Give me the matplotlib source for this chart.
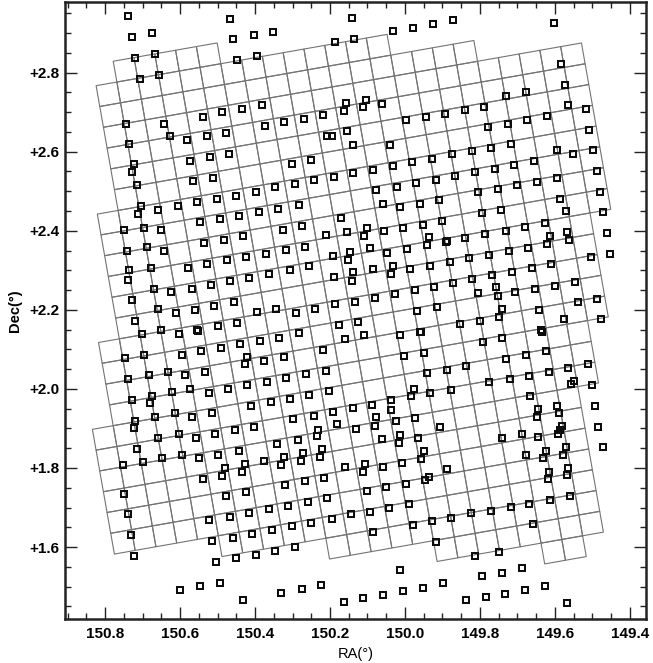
import numpy as np
import matplotlib
matplotlib.use("Agg")
import matplotlib.pyplot as plt
from matplotlib.collections import PolyCollection
from matplotlib.ticker import MultipleLocator, FormatStrFormatter

plt.rcParams['font.family'] = ['Liberation Sans', 'DejaVu Sans']

# ---- ACS tile mosaic: one row of the rotated tile grid per entry ----
tile_rows = list(range(-1, 26))
tile_first = [1, 0, 0, 0, 0, 0, 0, -1, -1, -1, -1, -1, -1, -2, -2, -2, -2,
              -3, -3, -3, -3, -3, -3, 2, 7, 12, 17]
tile_end = [6, 14, 18, 23, 23, 23, 23, 23, 23, 23, 23, 22, 22, 22, 22, 22,
            21, 21, 21, 20, 20, 20, 20, 20, 20, 20, 19]

TILE_RA = 0.0563      # tile side, degrees along the RA axis
TILE_DEC = 0.0534     # tile side, degrees along the Dec axis
THETA = np.radians(10.0)
GRID_ORIGIN = (150.824, 2.767)   # top-left corner of tile (row 0, col 0)

# ---- small pointings (RA, Dec) ----
pointings_nw = [
    (150.738, 2.943), (150.467, 2.936),
    (150.727, 2.890), (150.674, 2.900), (150.458, 2.884), (150.404, 2.895), (150.353, 2.903),
    (150.720, 2.837), (150.667, 2.848), (150.447, 2.831), (150.396, 2.841),
    (150.708, 2.785), (150.656, 2.795),
    (150.436, 2.709), (150.382, 2.718),
    (150.744, 2.671), (150.644, 2.671), (150.540, 2.689), (150.489, 2.700), (150.373, 2.666),
    (150.322, 2.674), (150.269, 2.684), (150.218, 2.694),
    (150.735, 2.620), (150.628, 2.639), (150.582, 2.629), (150.529, 2.639), (150.477, 2.647),
    (150.207, 2.640),
    (150.573, 2.576), (150.520, 2.586), (150.470, 2.595), (150.302, 2.570), (150.251, 2.580),
    (150.724, 2.569), (150.729, 2.548), (150.716, 2.515),
    (150.566, 2.525), (150.513, 2.533),
    (150.451, 2.489), (150.397, 2.499), (150.346, 2.510), (150.294, 2.518), (150.242, 2.528),
    (150.705, 2.463), (150.660, 2.453), (150.606, 2.462), (150.556, 2.472), (150.502, 2.481),
    (150.283, 2.466),
    (150.712, 2.443), (150.547, 2.421), (150.493, 2.429), (150.442, 2.438), (150.389, 2.447),
    (150.338, 2.456),
    (150.696, 2.408), (150.651, 2.401), (150.749, 2.401),
    (150.536, 2.368), (150.483, 2.377), (150.431, 2.386), (150.326, 2.402), (150.275, 2.413),
    (150.211, 2.390),
    (150.742, 2.350), (150.687, 2.359), (150.643, 2.348), (150.476, 2.325), (150.424, 2.333),
    (150.371, 2.342), (150.317, 2.352), (150.266, 2.360),
    (150.735, 2.300), (150.677, 2.306), (150.580, 2.305), (150.527, 2.316), (150.362, 2.290),
    (150.308, 2.300), (150.255, 2.310),
    (150.738, 2.276), (150.669, 2.254), (150.623, 2.244), (150.568, 2.252), (150.518, 2.262),
    (150.467, 2.272), (150.417, 2.280),
    (150.728, 2.225), (150.659, 2.201), (150.612, 2.191), (150.560, 2.200), (150.509, 2.210),
    (150.456, 2.220), (150.394, 2.194), (150.344, 2.203), (150.292, 2.193), (150.239, 2.203),
    (150.720, 2.173), (150.652, 2.149), (150.554, 2.149), (150.500, 2.159), (150.447, 2.168),
]

pointings_ne = [
    (150.142, 2.939), (150.031, 2.905), (149.978, 2.913), (149.924, 2.923), (149.873, 2.933),
    (149.602, 2.926), (150.187, 2.877), (150.135, 2.886),
    (149.584, 2.823), (149.573, 2.770), (149.731, 2.742), (149.677, 2.751), (149.566, 2.717),
    (149.518, 2.708),
    (150.158, 2.722), (150.105, 2.732), (150.164, 2.702), (150.111, 2.712), (150.060, 2.721),
    (149.997, 2.679), (149.945, 2.687), (149.892, 2.696), (149.840, 2.706), (149.788, 2.714),
    (149.779, 2.662), (149.726, 2.671), (149.674, 2.681), (149.622, 2.690), (149.510, 2.656),
    (150.156, 2.652), (150.140, 2.616), (150.040, 2.616), (150.196, 2.641),
    (149.874, 2.593), (149.822, 2.601), (149.770, 2.609), (149.717, 2.620), (149.595, 2.604),
    (149.551, 2.595), (149.498, 2.604),
    (150.138, 2.546), (150.084, 2.555), (150.033, 2.565), (149.980, 2.573), (149.927, 2.582),
    (149.866, 2.539), (149.813, 2.548), (149.761, 2.556), (149.708, 2.566), (149.656, 2.576),
    (149.489, 2.551),
    (150.189, 2.536), (150.076, 2.502), (150.022, 2.511), (149.971, 2.521), (149.918, 2.529),
    (149.804, 2.497), (149.751, 2.506), (149.700, 2.515), (149.647, 2.524), (149.595, 2.533),
    (149.480, 2.498),
    (150.058, 2.468), (150.013, 2.460), (149.960, 2.468), (149.908, 2.478), (149.795, 2.445),
    (149.743, 2.453), (149.587, 2.480), (149.571, 2.449), (149.471, 2.447),
    (150.171, 2.432), (150.102, 2.407), (150.109, 2.388), (150.154, 2.398), (150.056, 2.400),
    (150.004, 2.407), (149.951, 2.415), (149.900, 2.426), (149.937, 2.384), (149.891, 2.371),
    (149.839, 2.382), (149.786, 2.392), (149.731, 2.400), (149.680, 2.410), (149.627, 2.419),
    (149.613, 2.386), (149.567, 2.397), (149.562, 2.376), (149.462, 2.394),
    (150.147, 2.346), (150.092, 2.356), (150.047, 2.345), (149.994, 2.355), (149.942, 2.365),
    (149.889, 2.373), (149.828, 2.331), (149.775, 2.339), (149.723, 2.349), (149.672, 2.357),
    (149.620, 2.366), (149.505, 2.333), (149.453, 2.342),
    (150.193, 2.335), (150.153, 2.327), (150.084, 2.303), (150.031, 2.312), (149.987, 2.303),
    (149.933, 2.312), (149.880, 2.321), (149.820, 2.279), (149.767, 2.288), (149.715, 2.297),
    (149.662, 2.306), (149.610, 2.315),
    (150.189, 2.284), (150.138, 2.295), (150.142, 2.274), (150.038, 2.291), (150.026, 2.241),
    (149.974, 2.250), (149.923, 2.259), (149.871, 2.268), (149.804, 2.242), (149.757, 2.257),
    (149.751, 2.236), (149.706, 2.244), (149.652, 2.252), (149.599, 2.261), (149.546, 2.271),
    (150.186, 2.214), (150.134, 2.221), (150.080, 2.231), (149.967, 2.196), (149.914, 2.207),
    (149.853, 2.164), (149.800, 2.173), (149.741, 2.202), (149.748, 2.182), (149.643, 2.200),
    (149.576, 2.176), (149.539, 2.219), (149.487, 2.227), (149.478, 2.176),
    (150.175, 2.162), (150.124, 2.169), (149.958, 2.145), (149.638, 2.148),
]

pointings_sw = [
    (150.702, 2.139), (150.604, 2.138), (150.553, 2.146), (150.440, 2.113), (150.387, 2.122),
    (150.335, 2.130), (150.282, 2.141),
    (150.747, 2.077), (150.695, 2.086), (150.595, 2.086), (150.544, 2.096), (150.491, 2.104),
    (150.422, 2.081), (150.428, 2.062), (150.376, 2.071), (150.324, 2.081), (150.219, 2.098),
    (150.738, 2.024), (150.684, 2.035), (150.631, 2.042), (150.587, 2.034), (150.533, 2.043),
    (150.422, 2.010), (150.369, 2.018), (150.317, 2.028), (150.264, 2.037), (150.212, 2.046),
    (150.573, 2.001), (150.622, 1.991), (150.524, 1.990), (150.473, 2.000),
    (150.411, 1.957), (150.358, 1.967), (150.307, 1.975), (150.255, 1.984), (150.204, 1.995),
    (150.727, 1.972), (150.674, 1.982), (150.680, 1.965), (150.667, 1.928), (150.720, 1.919),
    (150.613, 1.938), (150.569, 1.928), (150.515, 1.938), (150.298, 1.923), (150.244, 1.931),
    (150.724, 1.900), (150.658, 1.877), (150.603, 1.886), (150.558, 1.876), (150.507, 1.886),
    (150.453, 1.896), (150.402, 1.904), (150.286, 1.870), (150.235, 1.881), (150.231, 1.897),
    (150.716, 1.849), (150.698, 1.814), (150.647, 1.825), (150.595, 1.833), (150.549, 1.824),
    (150.498, 1.833), (150.444, 1.843), (150.342, 1.860), (150.273, 1.838), (150.227, 1.828),
    (150.221, 1.849),
    (150.753, 1.807), (150.539, 1.772), (150.489, 1.780), (150.480, 1.800), (150.427, 1.811),
    (150.436, 1.790), (150.375, 1.818), (150.331, 1.807), (150.324, 1.828), (150.277, 1.818),
    (150.749, 1.735), (150.477, 1.730), (150.425, 1.738), (150.320, 1.756), (150.268, 1.766),
    (150.215, 1.775),
    (150.740, 1.683), (150.522, 1.668), (150.468, 1.676), (150.417, 1.686), (150.364, 1.695),
    (150.311, 1.703), (150.260, 1.713), (150.209, 1.723),
    (150.731, 1.630), (150.514, 1.615), (150.460, 1.624), (150.408, 1.634), (150.355, 1.643),
    (150.302, 1.653), (150.251, 1.661),
    (150.722, 1.578), (150.504, 1.562), (150.451, 1.573), (150.398, 1.581), (150.347, 1.591),
    (150.294, 1.600),
    (150.600, 1.492), (150.547, 1.501), (150.493, 1.510), (150.431, 1.467), (150.331, 1.485),
    (150.275, 1.495), (150.224, 1.504),
]

pointings_se = [
    (150.160, 2.126), (150.108, 2.136), (150.013, 2.136), (149.960, 2.145), (149.793, 2.119),
    (149.740, 2.130), (149.635, 2.145),
    (150.003, 2.084), (149.948, 2.092), (149.731, 2.076), (149.678, 2.086), (149.625, 2.096),
    (149.940, 2.041), (149.889, 2.049), (149.836, 2.059), (149.566, 2.054), (149.513, 2.063),
    (150.036, 1.972), (149.983, 1.982), (149.975, 1.999), (149.933, 1.990), (149.878, 1.997),
    (149.775, 2.017), (149.720, 2.025), (149.668, 2.033), (149.617, 2.043), (149.557, 2.012),
    (149.549, 2.021), (149.502, 2.010),
    (150.193, 1.942), (150.140, 1.951), (150.088, 1.960), (150.036, 1.946), (150.076, 1.928),
    (150.024, 1.919), (149.972, 1.927), (149.907, 1.903), (149.667, 1.982), (149.645, 1.950),
    (149.649, 1.928), (149.595, 1.957), (149.590, 1.938), (149.493, 1.957),
    (150.182, 1.910), (150.131, 1.898), (150.080, 1.907), (150.062, 1.874), (150.012, 1.883),
    (150.015, 1.864), (149.964, 1.875), (149.949, 1.843), (149.956, 1.822), (149.740, 1.877),
    (149.688, 1.886), (149.644, 1.879), (149.677, 1.833), (149.631, 1.826), (149.624, 1.843),
    (149.587, 1.896), (149.591, 1.886), (149.580, 1.906), (149.578, 1.834), (149.571, 1.854),
    (149.484, 1.904), (149.473, 1.854),
    (150.160, 1.803), (150.111, 1.790), (150.107, 1.811), (150.058, 1.803), (150.009, 1.813),
    (149.947, 1.769), (149.887, 1.798), (149.617, 1.790), (149.619, 1.773), (149.569, 1.782),
    (149.564, 1.801),
    (150.102, 1.742), (150.051, 1.752), (149.997, 1.760), (149.935, 1.776), (149.669, 1.710),
    (149.613, 1.720), (149.560, 1.730),
    (150.195, 1.672), (150.143, 1.683), (150.093, 1.689), (150.042, 1.699), (149.988, 1.709),
    (149.928, 1.665), (149.876, 1.674), (149.824, 1.685), (149.771, 1.692), (149.718, 1.702),
    (149.658, 1.659),
    (150.084, 1.637), (149.978, 1.655), (149.917, 1.612), (149.813, 1.578), (149.750, 1.588),
    (150.013, 1.541), (149.795, 1.526), (149.742, 1.535), (149.689, 1.546),
    (150.164, 1.461), (150.111, 1.470), (150.058, 1.478), (150.004, 1.488), (149.951, 1.497),
    (149.898, 1.508), (149.837, 1.465), (149.785, 1.474), (149.733, 1.482), (149.679, 1.492),
    (149.627, 1.501), (149.567, 1.459),
]

RA_LIM = (150.907, 149.357)
DEC_LIM = (1.418, 2.980)


def tile_polygons():
    u = np.array([-TILE_RA * np.cos(THETA), TILE_DEC * np.sin(THETA)])
    v = np.array([-TILE_RA * np.sin(THETA), -TILE_DEC * np.cos(THETA)])
    origin = np.array(GRID_ORIGIN)
    polys = []
    for row, first, end in zip(tile_rows, tile_first, tile_end):
        for col in range(first, end):
            c0 = origin + col * u + row * v
            polys.append([c0, c0 + u, c0 + u + v, c0 + v])
    return polys


fig = plt.figure(figsize=(6.53, 6.63), dpi=100)
ax = fig.add_axes([65 / 653, 1 - 619 / 663, 581 / 653, 617.5 / 663])

tiles = PolyCollection(tile_polygons(), facecolors='none', edgecolors='#747474', linewidths=0.8)
ax.add_collection(tiles)

points = np.array(pointings_nw + pointings_ne + pointings_sw + pointings_se)
ax.plot(points[:, 0], points[:, 1], 's', ls='none', mfc='none', mec='#0d0d0d',
        ms=4.2, mew=1.45)

ax.set_xlim(*RA_LIM)
ax.set_ylim(*DEC_LIM)

ax.xaxis.set_major_locator(MultipleLocator(0.2))
ax.xaxis.set_minor_locator(MultipleLocator(0.05))
ax.yaxis.set_major_locator(MultipleLocator(0.2))
ax.yaxis.set_minor_locator(MultipleLocator(0.05))
ax.xaxis.set_major_formatter(FormatStrFormatter('%.1f'))
ax.yaxis.set_major_formatter(FormatStrFormatter('%+.1f'))

ax.tick_params(which='both', direction='in', top=True, right=True, width=1.0, color='#222222')
ax.tick_params(which='major', length=8.5)
ax.tick_params(which='minor', length=4.3)
ax.tick_params(axis='x', pad=6)
ax.tick_params(axis='y', pad=4)
for lab in ax.get_xticklabels() + ax.get_yticklabels():
    lab.set_fontsize(11)
    lab.set_fontweight('bold')

for spine in ax.spines.values():
    spine.set_linewidth(1.8)
    spine.set_color('#222222')

ax.set_xlabel('RA(°)', fontsize=10.5, labelpad=4)
ax.set_ylabel('Dec(°)', fontsize=10.5, fontweight='bold', labelpad=5)

fig.savefig('out.png', dpi=100)
